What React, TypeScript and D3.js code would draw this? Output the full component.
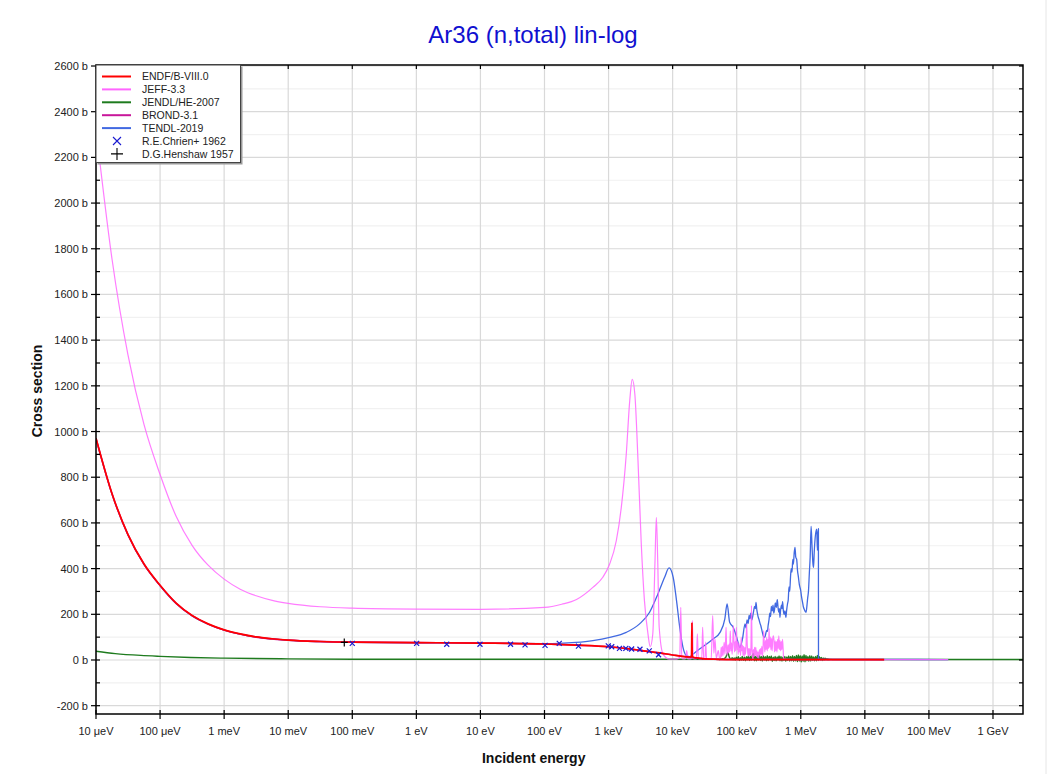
import React from "react";
import * as d3 from "d3";

type Pt = [number, number];

// ---- axis data ----
const X_TICK_VALUES = [1e-5, 1e-4, 1e-3, 1e-2, 1e-1, 1, 10, 100, 1e3, 1e4, 1e5, 1e6, 1e7, 1e8, 1e9];
const X_TICK_LABELS = ["10 μeV", "100 μeV", "1 meV", "10 meV", "100 meV", "1 eV", "10 eV", "100 eV", "1 keV", "10 keV", "100 keV", "1 MeV", "10 MeV", "100 MeV", "1 GeV"];
const Y_MAJOR = [-200, 0, 200, 400, 600, 800, 1000, 1200, 1400, 1600, 1800, 2000, 2200, 2400, 2600];
const Y_MINOR = [-100, 100, 300, 500, 700, 900, 1100, 1300, 1500, 1700, 1900, 2100, 2300, 2500];
const X_DOMAIN: Pt = [1e-5, 2.94e9];
const Y_DOMAIN: Pt = [-236.4, 2604.4];

// ---- series (energy eV, cross section b) ----
const ENDF_B8: Pt[] = [
  [1e-5, 971], [1.78e-5, 728], [3.16e-5, 549], [5.62e-5, 420], [1e-4, 327], [1.78e-4, 249],
  [3.16e-4, 195], [5.62e-4, 158], [1e-3, 132], [1.78e-3, 114], [3.16e-3, 101], [5.62e-3, 93],
  [1e-2, 87], [3.16e-2, 81], [0.1, 78], [1, 76], [10, 74], [100, 70], [316, 65],
  [1000, 58], [2000, 50], [3160, 42], [4470, 36], [6310, 31], [1e4, 22], [1.66e4, 14],
  [1.97e4, 13], [2.0e4, 162], [2.02e4, 20], [2.1e4, 12], [2.4e4, 9], [3.16e4, 5], [5e4, 3],
  [1e5, 2], [1e6, 2], [2e7, 1.5],
];

const JEFF_33: Pt[] = [
  [1e-5, 2325], [1.78e-5, 1754], [3.16e-5, 1334], [5.62e-5, 1030], [1e-4, 812], [1.78e-4, 629],
  [3.16e-4, 502], [5.62e-4, 415], [1e-3, 354], [1.78e-3, 310], [3.16e-3, 281], [5.62e-3, 261],
  [1e-2, 248], [3.16e-2, 233], [0.1, 227], [1, 223], [10, 222], [100, 230], [186, 244],
  [316, 265], [569, 318], [813, 362], [1040, 420], [1320, 522], [1580, 668], [1890, 902], [2140, 1135],
  [2340, 1228], [2570, 1164], [2880, 872], [3240, 508], [3630, 260], [4120, 114], [4470, 58],
  [4900, 114], [5310, 435], [5570, 624], [5850, 435], [6170, 143], [7080, 26], [8910, 4], [1.15e4, 4],
  [1.29e4, 12], [1.34e4, 230], [1.39e4, 6], [1.58e4, 5], [1.66e4, 41], [1.72e4, 5], [1.95e4, 5],
  [2.03e4, 172], [2.1e4, 6], [2.35e4, 5], [2.43e4, 114], [2.52e4, 6], [2.85e4, 5], [2.94e4, 143],
  [3.05e4, 6], [3.2e4, 5], [3.28e4, 78], [3.38e4, 5], [4.0e4, 6], [4.22e4, 194], [4.4e4, 30],
  [4.58e4, 92], [4.8e4, 8], [5.16e4, 41], [5.4e4, 8],
];
// JEFF-3.3 fluctuating region, energy in keV
const JEFF_33_FLUCT_KEV: Pt[] = [
  [56, 10], [57.2, 55], [58.5, 15], [59.8, 60], [61.1, 20], [62.5, 50], [63.9, 77], [65.3, 25],
  [66.7, 60], [68.2, 143], [69.7, 45], [71.2, 20], [72.8, 65], [74.4, 30], [76.0, 70], [77.7, 35],
  [79.4, 128], [81.2, 40], [83.0, 75], [84.8, 25], [86.7, 70], [88.6, 150], [90.5, 84], [92.5, 35],
  [94.6, 80], [96.7, 40], [98.8, 143], [101, 45], [103, 80], [105.5, 25], [108, 75], [110, 35],
  [112.5, 60], [115, 20], [117.5, 99], [120, 40], [123, 65], [125.5, 20], [128, 60], [131, 15],
  [134, 55], [137, 25], [140, 65], [143, 158], [146, 70], [149.5, 20], [153, 50], [156, 15],
  [159.5, 50], [163, 20], [166.5, 45], [170, 238], [174, 41], [178, 4], [182, 45], [186, 15],
  [190, 55], [194, 20], [198.5, 55], [203, 15], [207, 40], [212, 10], [216.5, 35], [221, 8],
  [226, 45], [231, 20], [236, 50], [241, 25], [247, 60], [252, 15], [258, 55], [263, 128],
  [269, 77], [275, 35], [281, 85], [287, 45], [294, 99], [300, 40], [307, 90], [314, 50],
  [320, 137], [327, 55], [335, 100], [342, 45], [350, 95], [357, 40], [365, 92], [373, 106],
  [381, 88], [390, 35], [398, 84], [407, 40], [416, 80], [425, 35], [435, 90], [444, 50],
  [454, 106], [464, 45], [474, 85], [485, 40], [496, 80], [507, 45], [518, 90], [530, 50], [540, 5],
];
const JEFF_33_HIGH: Pt[] = [[6e5, 3], [1e6, 2], [1e7, 2], [2e8, 2]];

const JENDL_HE2007: Pt[] = [
  [1e-5, 38], [2e-5, 28], [5e-5, 20], [1e-4, 16], [3e-4, 11], [1e-3, 8], [1e-2, 5], [0.1, 3.5],
  [1, 3], [1e3, 3], [1e4, 3],
];
// JENDL/HE-2007 fluctuating region, energy in keV
const JENDL_HE2007_FLUCT_KEV: Pt[] = [
  [50, 3], [52, 4], [54, 2], [56, 5], [58, 3], [60, 6], [62.5, 4], [65, 8], [67.5, 12], [70, 22],
  [73, 33], [76, 15], [79, 6], [82, 2], [85, 10], [88, 1], [91.5, 9], [95, 0], [98.5, 12], [102, 2],
  [106, 14], [110, -2], [114, 10], [118, 0], [122, 15], [127, -1], [132, 12], [137, -3], [142, 14],
  [147, 1], [152, 18], [158, -2], [164, 15], [170, 0], [176, 21], [182, 28], [189, -3], [196, 15],
  [203, -4], [210, 18], [218, 0], [226, 20], [234, -2], [242, 16], [251, -5], [260, 18], [270, 0],
  [280, 14], [290, -3], [300, 19], [311, -2], [322, 15], [334, 1], [346, 18], [358, -6], [371, 12],
  [384, -2], [398, 16], [412, -4], [427, 13], [442, 0], [458, 18], [474, -3], [491, 15], [508, -5],
  [526, 12], [545, -2], [564, 16], [584, -6], [605, 13], [626, -2], [648, 18], [671, -5], [695, 15],
  [720, -3], [745, 19], [771, -6], [798, 16], [826, -4], [855, 20], [885, -7], [916, 22], [948, -5],
  [981, 19], [1015, -8], [1050, 18], [1087, -6], [1125, 23], [1164, -8], [1205, 20], [1247, -3],
  [1290, 15], [1335, -6], [1382, 19], [1430, -5], [1480, 18], [1532, -2], [1586, 13], [1641, -4],
  [1698, 16], [1757, -3], [1818, 20], [1882, -2], [1948, 14], [2016, 0], [2087, 11], [2160, -2],
  [2235, 9], [2313, 0], [2394, 8], [2478, 1], [2565, 6], [2655, 0], [2748, 5], [2844, 1],
  [2943, 3], [3046, 2],
];
const JENDL_HE2007_HIGH: Pt[] = [[5e6, 2], [1e8, 2], [2.94e9, 2]];

const BROND_31: Pt[] = [
  [1e-5, 970], [1.78e-5, 727], [3.16e-5, 548], [5.62e-5, 419], [1e-4, 326], [1.78e-4, 248],
  [3.16e-4, 194], [5.62e-4, 157], [1e-3, 131], [3.16e-3, 100], [1e-2, 87], [0.1, 78], [1, 76],
  [10, 74], [100, 70], [316, 65], [1000, 58], [3160, 42], [1e4, 22], [3.16e4, 5], [1e5, 2],
  [1e6, 2], [2e7, 1.5],
];

const TENDL_2019: Pt[] = [
  [1e-5, 969], [1.78e-5, 726], [3.16e-5, 547], [5.62e-5, 418], [1e-4, 325], [1.78e-4, 247],
  [3.16e-4, 193], [5.62e-4, 157], [1e-3, 131], [1.78e-3, 113], [3.16e-3, 100], [5.62e-3, 92],
  [1e-2, 86], [3.16e-2, 80], [0.1, 77], [1, 75], [10, 74], [100, 72], [170, 73],
  [309, 77], [569, 85], [1040, 99], [1890, 121], [3050, 158], [4370, 209], [5890, 289], [7500, 362],
  [8790, 403], [1.02e4, 362], [1.15e4, 260], [1.29e4, 143], [1.45e4, 55], [1.64e4, 19], [1.86e4, 15],
  [2.09e4, 26], [2.63e4, 48], [3.39e4, 70], [4.27e4, 92], [5.5e4, 121], [6.53e4, 180], [7.08e4, 245],
  [7.76e4, 165], [8.81e4, 143], [1e5, 99], [1.12e5, 55], [1.23e5, 92],
  [1.35e5, 158], [1.4e5, 140], [1.45e5, 175], [1.51e5, 160], [1.56e5, 195], [1.61e5, 180],
  [1.66e5, 205], [1.72e5, 175], [1.78e5, 192], [1.84e5, 215], [1.9e5, 235], [1.96e5, 225],
  [2.0e5, 252], [2.06e5, 220], [2.12e5, 200], [2.17e5, 187], [2.24e5, 175], [2.31e5, 160],
  [2.38e5, 150], [2.45e5, 135], [2.52e5, 120], [2.6e5, 105], [2.68e5, 100], [2.75e5, 99],
  [2.84e5, 115], [2.93e5, 130], [3.02e5, 125], [3.09e5, 150], [3.19e5, 175], [3.29e5, 205],
  [3.38e5, 190], [3.47e5, 235], [3.58e5, 215], [3.69e5, 240], [3.79e5, 205], [3.89e5, 220],
  [4.01e5, 250], [4.14e5, 230], [4.3e5, 264], [4.4e5, 235], [4.52e5, 210], [4.63e5, 225],
  [4.73e5, 187], [4.85e5, 220], [5.0e5, 240], [5.1e5, 225], [5.2e5, 255], [5.35e5, 215],
  [5.5e5, 200], [5.66e5, 215], [5.86e5, 187], [6.0e5, 215], [6.2e5, 245], [6.38e5, 265],
  [6.55e5, 320], [6.72e5, 300], [6.92e5, 365], [7.1e5, 400], [7.3e5, 385], [7.5e5, 440],
  [7.67e5, 420], [7.9e5, 470], [8.13e5, 493], [8.35e5, 450], [8.63e5, 440], [8.9e5, 390],
  [9.16e5, 365], [9.5e5, 330], [9.98e5, 303], [1.03e6, 275], [1.07e6, 250], [1.1e6, 232],
  [1.14e6, 220], [1.18e6, 212], [1.21e6, 209], [1.25e6, 240], [1.28e6, 270], [1.32e6, 303],
  [1.36e6, 380], [1.4e6, 449], [1.45e6, 585], [1.5e6, 493], [1.55e6, 420], [1.58e6, 405],
  [1.62e6, 470], [1.68e6, 537], [1.77e6, 573], [1.82e6, 480], [1.86e6, 560], [1.885e6, 575],
  [1.89e6, 4], [2.5e6, 3], [1e7, 2.5], [2e8, 2],
];

const CHRIEN_1962: Pt[] = [
  [0.1, 73], [1.01, 73], [2.98, 69], [9.84, 69], [29.5, 69], [49.7, 66], [102, 64], [170, 73],
  [339, 61], [991, 62], [1120, 58], [1480, 51], [1860, 51], [2290, 48], [3090, 47], [4320, 40],
  [6030, 23],
];
const HENSHAW_1957: Pt[] = [[0.075, 77]];

const keV = (pts: Pt[]): Pt[] => pts.map(([e, s]) => [e * 1e3, s] as Pt);

const LINE_SERIES = [
  { name: "ENDF/B-VIII.0", data: ENDF_B8, color: "#ff0000", width: 1.7, opacity: 1 },
  { name: "JEFF-3.3", data: [...JEFF_33, ...keV(JEFF_33_FLUCT_KEV), ...JEFF_33_HIGH], color: "#ff66ff", width: 1.2, opacity: 0.85 },
  { name: "JENDL/HE-2007", data: [...JENDL_HE2007, ...keV(JENDL_HE2007_FLUCT_KEV), ...JENDL_HE2007_HIGH], color: "#1e7b1e", width: 1.4, opacity: 1 },
  { name: "BROND-3.1", data: BROND_31, color: "#c8169a", width: 1.6, opacity: 1 },
  { name: "TENDL-2019", data: TENDL_2019, color: "#4169e1", width: 1.3, opacity: 1 },
];
const DRAW_ORDER = ["JENDL/HE-2007", "TENDL-2019", "JEFF-3.3", "BROND-3.1", "ENDF/B-VIII.0"];

const X0 = 96, X1 = 1023, Y0 = 65, Y1 = 714;
const FONT = "'Liberation Sans', Arial, Helvetica, sans-serif";

export default function App() {
  const x = d3.scaleLog().domain(X_DOMAIN).range([X0, X1]);
  const y = d3.scaleLinear().domain(Y_DOMAIN).range([Y1, Y0]);
  const line = d3
    .line<Pt>()
    .x((d) => x(d[0]))
    .y((d) => y(d[1]))
    .curve(d3.curveMonotoneX);

  const legendRows = [
    ...LINE_SERIES.map((s) => ({ name: s.name, kind: "line", color: s.color })),
    { name: "R.E.Chrien+ 1962", kind: "x", color: "#1a1ad0" },
    { name: "D.G.Henshaw 1957", kind: "+", color: "#000" },
  ];

  return (
    <svg
      width={1053}
      height={774}
      style={{ position: "absolute", left: 0, top: 0, background: "#fff" }}
      fontFamily={FONT}
    >
      <defs>
        <clipPath id="plotclip">
          <rect x={X0} y={Y0} width={X1 - X0} height={Y1 - Y0} />
        </clipPath>
      </defs>
      <rect x={0} y={0} width={1053} height={774} fill="#fff" />
      <line x1={1046} x2={1046} y1={0} y2={774} stroke="#e6e6e6" strokeWidth={1} />

      {/* minor grid */}
      {Y_MINOR.map((v) => (
        <line key={"gm" + v} x1={X0} x2={X1} y1={y(v)} y2={y(v)} stroke="#f1f1f1" strokeWidth={1.2} />
      ))}
      {/* major grid */}
      {Y_MAJOR.map((v) => (
        <line key={"gy" + v} x1={X0} x2={X1} y1={y(v)} y2={y(v)} stroke="#d9d9d9" strokeWidth={1.2} />
      ))}
      {X_TICK_VALUES.map((v) => (
        <line key={"gx" + v} x1={x(v)} x2={x(v)} y1={Y0} y2={Y1} stroke="#d9d9d9" strokeWidth={1.2} />
      ))}

      {/* series */}
      <g clipPath="url(#plotclip)">
        {DRAW_ORDER.map((n) => {
          const s = LINE_SERIES.find((q) => q.name === n)!;
          return (
            <path
              key={n}
              d={line(s.data) || ""}
              fill="none"
              stroke={s.color}
              strokeWidth={s.width}
              strokeOpacity={s.opacity}
              strokeLinejoin="round"
            />
          );
        })}
        {CHRIEN_1962.map((d, i) => {
          const cx = x(d[0]), cy = y(d[1]);
          return (
            <path
              key={"c" + i}
              d={`M${cx - 2.5},${cy - 2.5}L${cx + 2.5},${cy + 2.5}M${cx - 2.5},${cy + 2.5}L${cx + 2.5},${cy - 2.5}`}
              stroke="#1a1ad0"
              strokeWidth={1.2}
            />
          );
        })}
        {HENSHAW_1957.map((d, i) => {
          const cx = x(d[0]), cy = y(d[1]);
          return (
            <path
              key={"h" + i}
              d={`M${cx - 3.5},${cy}L${cx + 3.5},${cy}M${cx},${cy - 4}L${cx},${cy + 4}`}
              stroke="#000"
              strokeWidth={1.2}
            />
          );
        })}
      </g>

      {/* frame */}
      <rect x={X0} y={Y0} width={X1 - X0} height={Y1 - Y0} fill="none" stroke="#000" strokeWidth={1.5} />

      {/* left axis ticks + labels */}
      {Y_MAJOR.map((v) => (
        <g key={"ly" + v}>
          <line x1={X0 - 5} x2={X0 + 4} y1={y(v)} y2={y(v)} stroke="#000" strokeWidth={1.2} />
          <text x={X0 - 8} y={y(v) + 4} fontSize={11} textAnchor="end" fill="#222">
            {v + " b"}
          </text>
        </g>
      ))}
      {Y_MINOR.map((v) => (
        <line key={"lym" + v} x1={X0} x2={X0 + 4} y1={y(v)} y2={y(v)} stroke="#000" strokeWidth={1.2} />
      ))}
      {/* right axis ticks */}
      {[...Y_MAJOR, ...Y_MINOR].map((v) => (
        <line key={"ry" + v} x1={X1 - 4} x2={X1} y1={y(v)} y2={y(v)} stroke="#000" strokeWidth={1.2} />
      ))}
      {/* bottom / top ticks */}
      {X_TICK_VALUES.map((v, i) => (
        <g key={"bx" + v}>
          <line x1={x(v)} x2={x(v)} y1={Y1 - 4} y2={Y1 + 5} stroke="#000" strokeWidth={1.2} />
          <line x1={x(v)} x2={x(v)} y1={Y0} y2={Y0 + 4} stroke="#000" strokeWidth={1.2} />
          <text x={x(v)} y={735} fontSize={11} textAnchor="middle" fill="#222">
            {X_TICK_LABELS[i]}
          </text>
        </g>
      ))}

      {/* legend */}
      <rect x={X0 + 1.5} y={Y0 + 1.5} width={145} height={98} fill="#999" />
      <rect x={X0} y={Y0} width={144.5} height={97.5} fill="#fff" stroke="#444" strokeWidth={1} />
      {legendRows.map((r, i) => {
        const cy = 76.5 + i * 12.9;
        return (
          <g key={"lg" + i}>
            {r.kind === "line" && (
              <line x1={102} x2={131} y1={cy} y2={cy} stroke={r.color} strokeWidth={2} />
            )}
            {r.kind === "x" && (
              <path
                d={`M${113},${cy - 4}L${121},${cy + 4}M${113},${cy + 4}L${121},${cy - 4}`}
                stroke={r.color}
                strokeWidth={1.1}
              />
            )}
            {r.kind === "+" && (
              <path d={`M${111},${cy}L${123},${cy}M${117},${cy - 6}L${117},${cy + 6}`} stroke={r.color} strokeWidth={1.1} />
            )}
            <text x={142} y={cy + 3.8} fontSize={10.5} fill="#222">
              {r.name}
            </text>
          </g>
        );
      })}

      {/* titles */}
      <text x={533} y={43} fontSize={24} textAnchor="middle" fill="#1010d0">
        Ar36 (n,total) lin-log
      </text>
      <text x={533.7} y={763} fontSize={14} fontWeight="bold" textAnchor="middle" fill="#111">
        Incident energy
      </text>
      <text
        transform="translate(42,391) rotate(-90)"
        fontSize={14}
        fontWeight="bold"
        textAnchor="middle"
        fill="#111"
      >
        Cross section
      </text>
    </svg>
  );
}
